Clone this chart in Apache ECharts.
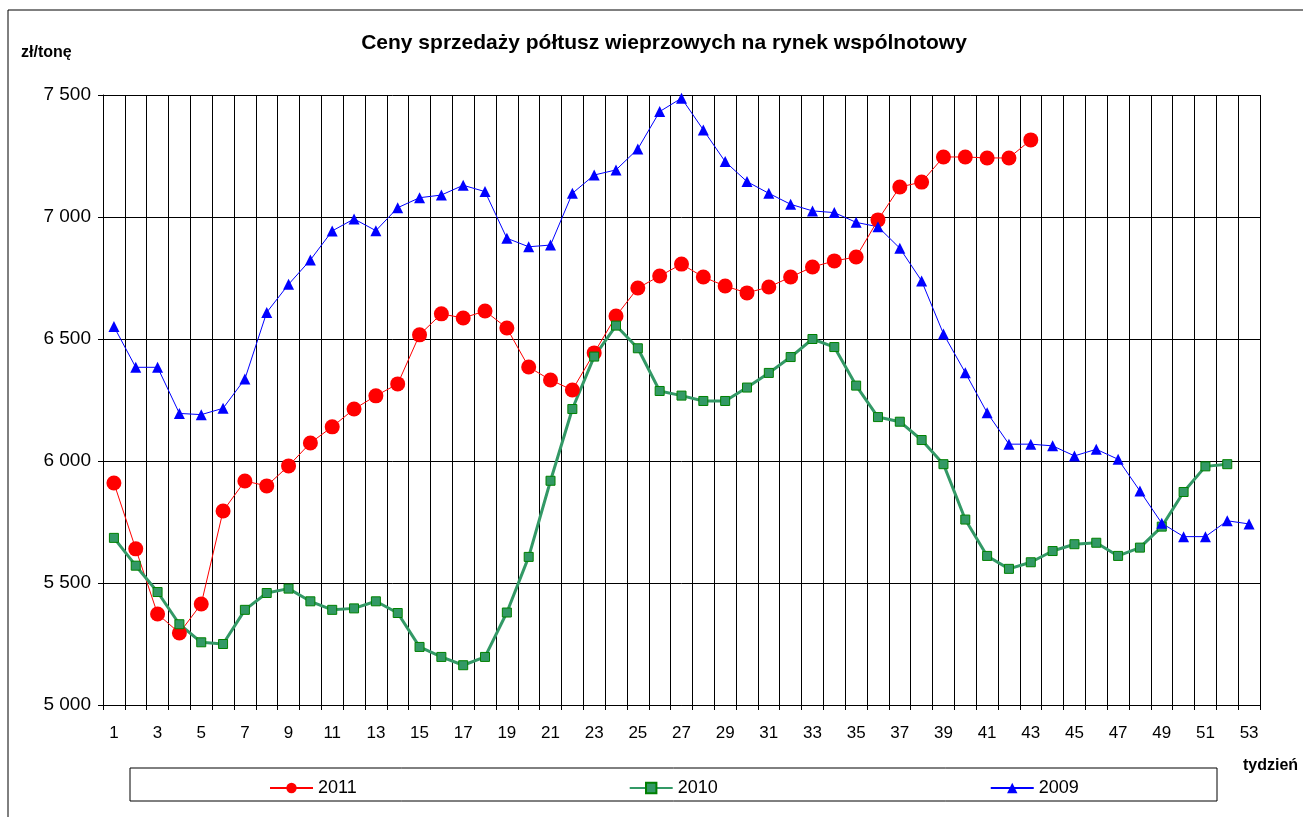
<!DOCTYPE html>
<html>
<head>
<meta charset="utf-8">
<script src="https://cdn.jsdelivr.net/npm/echarts@6/dist/echarts.min.js"></script>
<style>
  html, body { margin: 0; padding: 0; background: #fff; }
  #main { width: 1303px; height: 817px; }
</style>
</head>
<body>
<div id="main"></div>
<script>
// tygodnie 1..53
var weeks = ['1','2','3','4','5','6','7','8','9','10','11','12','13','14','15','16','17','18','19','20',
  '21','22','23','24','25','26','27','28','29','30','31','32','33','34','35','36','37','38','39','40',
  '41','42','43','44','45','46','47','48','49','50','51','52','53'];

var prices2011 = [5910, 5640, 5373, 5295, 5414, 5795, 5918, 5898, 5980, 6074,
  6140, 6213, 6267, 6316, 6517, 6603, 6586, 6615, 6545, 6385,
  6332, 6291, 6443, 6594, 6709, 6758, 6807, 6754, 6717, 6689,
  6713, 6754, 6795, 6820, 6836, 6988, 7123, 7143, 7246, 7246,
  7242, 7242, 7316];

var prices2010 = [5685, 5571, 5463, 5331, 5257, 5250, 5390, 5459, 5477, 5425,
  5390, 5396, 5425, 5377, 5238, 5197, 5163, 5197, 5379, 5607,
  5919, 6213, 6428, 6555, 6462, 6287, 6268, 6246, 6246, 6301,
  6361, 6426, 6500, 6467, 6309, 6180, 6161, 6086, 5987, 5760,
  5611, 5558, 5585, 5631, 5659, 5665, 5611, 5645, 5731, 5873,
  5978, 5987];

var prices2009 = [6551, 6384, 6384, 6195, 6190, 6216, 6336, 6609, 6724, 6824,
  6943, 6992, 6944, 7038, 7079, 7090, 7130, 7104, 6913, 6878,
  6885, 7097, 7172, 7193, 7279, 7432, 7487, 7357, 7227, 7145,
  7097, 7052, 7025, 7018, 6978, 6960, 6872, 6738, 6521, 6362,
  6198, 6069, 6069, 6062, 6021, 6048, 6007, 5877, 5745, 5690,
  5690, 5755, 5742];

var font = 'Arial, "Liberation Sans", sans-serif';

var myChart = echarts.init(document.getElementById('main'), null, { renderer: 'canvas' });

var option = {
  backgroundColor: '#fff',
  animation: false,
  textStyle: { fontFamily: font },
  title: {
    text: 'Ceny sprzedaży półtusz wieprzowych na rynek wspólnotowy',
    left: 659,
    textAlign: 'center',
    top: 28,
    textStyle: { fontSize: 21, fontWeight: 'bold', color: '#000', fontFamily: font }
  },
  grid: { left: 103, right: 43, top: 95, bottom: 112, containLabel: false },
  legend: {
    left: 264,
    top: 774,
    itemWidth: 43,
    itemHeight: 13,
    itemGap: 272,
    textStyle: { fontSize: 18, color: '#000', fontFamily: font },
    data: ['2011', '2010', '2009']
  },
  graphic: [
    {
      type: 'rect',
      shape: { x: 8, y: 10, width: 1310, height: 820 },
      style: { fill: null, stroke: '#000', lineWidth: 1 },
      silent: true, z: -1
    },
    {
      type: 'rect',
      shape: { x: 130, y: 768, width: 1087, height: 33 },
      style: { fill: null, stroke: '#000', lineWidth: 1 },
      silent: true, z: -1
    },
    {
      type: 'text',
      left: 21, top: 45,
      style: { text: 'zł/tonę', font: 'bold 16px ' + font, fill: '#000' }
    },
    {
      type: 'text',
      left: 1243, top: 758,
      style: { text: 'tydzień', font: 'bold 16px ' + font, fill: '#000' }
    }
  ],
  xAxis: {
    type: 'category',
    data: weeks,
    boundaryGap: true,
    axisLine: { lineStyle: { color: '#000', width: 1 } },
    axisTick: { show: true, interval: 0, length: 5, lineStyle: { color: '#000' } },
    axisLabel: { interval: 1, color: '#000', fontSize: 17, margin: 20, fontFamily: font },
    splitLine: { show: true, interval: 0, lineStyle: { color: '#000', width: 1 } }
  },
  yAxis: {
    type: 'value',
    min: 5000,
    max: 7500,
    interval: 500,
    axisLine: { show: true, lineStyle: { color: '#000' } },
    axisTick: { show: true, length: 5, lineStyle: { color: '#000' } },
    axisLabel: {
      color: '#000', fontSize: 19, margin: 12, fontFamily: font,
      formatter: function (v) {
        return String(v).replace(/\B(?=(\d{3})+(?!\d))/g, ' ');
      }
    },
    splitLine: { show: true, lineStyle: { color: '#000', width: 1 } }
  },
  series: [
    {
      name: '2011',
      type: 'line',
      data: prices2011,
      symbol: 'circle',
      symbolSize: 15,
      showAllSymbol: true,
      lineStyle: { color: '#ff0000', width: 1 },
      itemStyle: { color: '#ff0000' }
    },
    {
      name: '2010',
      type: 'line',
      data: prices2010,
      symbol: 'rect',
      symbolSize: 9,
      showAllSymbol: true,
      lineStyle: { color: '#339966', width: 3 },
      itemStyle: { color: '#339966', borderColor: '#008000', borderWidth: 1 }
    },
    {
      name: '2009',
      type: 'line',
      data: prices2009,
      symbol: 'triangle',
      symbolSize: 11,
      showAllSymbol: true,
      lineStyle: { color: '#0000ff', width: 1 },
      itemStyle: { color: '#0000ff' }
    }
  ]
};

myChart.setOption(option);
</script>
</body>
</html>
